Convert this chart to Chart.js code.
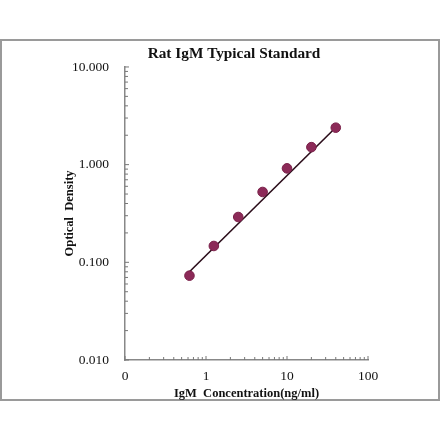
<!DOCTYPE html>
<html><head><meta charset="utf-8">
<script src="https://cdn.jsdelivr.net/npm/chart.js@4/dist/chart.umd.min.js"></script>
<style>html,body{margin:0;padding:0;background:#fff;}#wrap{width:440px;height:441px;position:relative;}</style>
</head><body><div id="wrap"><canvas id="c" width="440" height="441"></canvas></div>
<script>
const concentrations = [0.625, 1.25, 2.5, 5, 10, 20, 40];
const opticalDensity = [0.073, 0.147, 0.291, 0.525, 0.916, 1.51, 2.39];
const fitX = [0.625, 40];
const fitY = [0.080, 2.40];
const xTickValues = [0.1, 1, 10, 100];
const xTickLabels = ["0", "1", "10", "100"];
const yTickValues = [0.01, 0.1, 1, 10];
const yTickLabels = ["0.010", "0.100", "1.000", "10.000"];
const minorMultipliers = [2, 3, 4, 5, 6, 7, 8, 9];

const SERIF = "'Liberation Serif', 'DejaVu Serif', serif";

const frame = {
  id: 'frame',
  afterLayout(chart) {
    const t = chart.titleBlock;
    if (t) { t.left = 100; t.right = 368; }
  },
  beforeDraw(chart) {
    const ctx = chart.ctx;
    ctx.save();
    ctx.fillStyle = '#fff';
    ctx.fillRect(0, 0, chart.width, chart.height);
    ctx.strokeStyle = '#9a9a9a';
    ctx.lineWidth = 2;
    ctx.strokeRect(1, 40, 438, 360);
    ctx.restore();
  },
  afterDatasetsDraw(chart) {
    const ctx = chart.ctx;
    const xs = chart.scales.x, ys = chart.scales.y;
    const a = chart.chartArea;
    ctx.save();
    ctx.strokeStyle = '#777';
    ctx.lineWidth = 1;
    ctx.beginPath();
    for (let d = 0; d < xTickValues.length; d++) {
      const base = xTickValues[d];
      const px = xs.getPixelForValue(base);
      ctx.moveTo(px, a.bottom); ctx.lineTo(px, a.bottom - 4);
      if (d < xTickValues.length - 1) {
        for (const m of minorMultipliers) {
          const p = xs.getPixelForValue(base * m);
          ctx.moveTo(p, a.bottom); ctx.lineTo(p, a.bottom - 3);
        }
      }
    }
    for (let d = 0; d < yTickValues.length; d++) {
      const base = yTickValues[d];
      const py = ys.getPixelForValue(base);
      ctx.moveTo(a.left, py); ctx.lineTo(a.left + 4, py);
      if (d < yTickValues.length - 1) {
        for (const m of minorMultipliers) {
          const p = ys.getPixelForValue(base * m);
          ctx.moveTo(a.left, p); ctx.lineTo(a.left + 3, p);
        }
      }
    }
    ctx.stroke();
    ctx.restore();
  }
};

new Chart(document.getElementById('c'), {
  type: 'scatter',
  data: {
    datasets: [
      {
        label: 'Fit',
        data: fitX.map((x, i) => ({x, y: fitY[i]})),
        showLine: true,
        borderColor: '#2b0d1a',
        borderWidth: 1.6,
        pointRadius: 0,
        fill: false,
        order: 2
      },
      {
        label: 'Standard',
        data: concentrations.map((x, i) => ({x, y: opticalDensity[i]})),
        showLine: false,
        pointRadius: 4.8,
        pointBackgroundColor: '#8c2a58',
        pointBorderColor: '#7a2049',
        pointBorderWidth: 1,
        order: 1
      }
    ]
  },
  options: {
    responsive: false,
    animation: false,
    events: [],
    layout: { padding: { left: 50, right: 72, top: 40, bottom: 40 } },
    plugins: {
      legend: { display: false },
      tooltip: { enabled: false },
      title: {
        display: true,
        text: 'Rat IgM Typical Standard',
        color: '#111',
        font: { family: SERIF, size: 15.3, weight: 'bold', lineHeight: 1.2 },
        padding: { top: 5, bottom: 3.6 }
      }
    },
    scales: {
      x: {
        type: 'logarithmic',
        min: 0.1, max: 100,
        afterFit(s) { s.height = 41; },
        afterBuildTicks(s) { s.ticks = xTickValues.map(v => ({value: v})); },
        ticks: {
          autoSkip: false, maxRotation: 0, padding: 8,
          color: '#111',
          font: { family: SERIF, size: 13.5 },
          callback(v) { const i = xTickValues.indexOf(v); return i >= 0 ? xTickLabels[i] : ''; }
        },
        grid: { display: true, drawOnChartArea: false, drawTicks: false },
        border: { display: true, color: '#888', width: 1.5 },
        title: {
          display: true, text: 'IgM  Concentration(ng/ml)', color: '#111',
          font: { family: SERIF, size: 12.5, weight: 'bold', lineHeight: 1.2 },
          padding: { top: 0, bottom: 0 }
        }
      },
      y: {
        type: 'logarithmic',
        min: 0.01, max: 10,
        afterFit(s) { s.width = 75; },
        afterBuildTicks(s) { s.ticks = yTickValues.map(v => ({value: v})); },
        ticks: {
          autoSkip: false, padding: 16,
          color: '#111',
          font: { family: SERIF, size: 13.5 },
          callback(v) { const i = yTickValues.indexOf(v); return i >= 0 ? yTickLabels[i] : ''; }
        },
        grid: { display: true, drawOnChartArea: false, drawTicks: false },
        border: { display: true, color: '#888', width: 1.5 },
        title: {
          display: true, text: 'Optical  Density', color: '#111',
          font: { family: SERIF, size: 12.5, weight: 'bold', lineHeight: 1.2 },
          padding: { top: 12, bottom: 0 }
        }
      }
    }
  },
  plugins: [frame]
});
</script></body></html>
